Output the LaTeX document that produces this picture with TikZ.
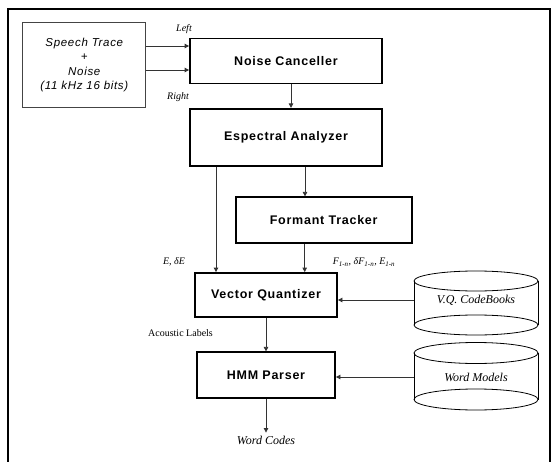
\documentclass[tikz,border=0pt]{standalone}
\usepackage{xcolor}
\usepackage{fontspec}
\setmainfont{Liberation Serif}
\setsansfont{Liberation Sans}
\newfontfamily\blockfont[LetterSpace=6]{Liberation Sans}
\usetikzlibrary{arrows.meta}
\definecolor{InkBlack}{HTML}{000000}
\definecolor{WireGray}{HTML}{333333}
\definecolor{SourceGray}{HTML}{444444}

\begin{document}
\begin{tikzpicture}[x=1pt, y=-1pt,
    block/.style={draw=InkBlack, line width=1.8pt, inner sep=0pt,
        font=\blockfont\bfseries\fontsize{12.5}{15}\selectfont},
    wire/.style={draw=WireGray, line width=0.8pt, -{Triangle[length=4.5pt, width=4.5pt]}},
    tag/.style={inner sep=0pt, font=\itshape\fontsize{10}{12}\selectfont},
    store/.style={draw=InkBlack, line width=0.8pt},
    storetext/.style={minimum width=124pt, inner sep=0pt, font=\itshape\fontsize{12}{14}\selectfont}]
    \useasboundingbox (0,0) rectangle (553,462);
    \draw[line width=2pt] (8,470) -- (8,9) -- (550,9) -- (550,470);

    % Input
    \node[draw=SourceGray, line width=0.8pt, minimum width=123pt, minimum height=85pt, inner sep=0pt,
        align=center, font=\blockfont\itshape\fontsize{11.5}{14.5}\selectfont]
        (speech) at (84.3,65) {Speech Trace\\+\\Noise\\(11 kHz 16 bits)};

    % Processing chain
    \node[block, minimum width=192pt, minimum height=45pt] (nc) at (286,61) {Noise Canceller};
    \node[block, minimum width=192pt, minimum height=57pt] (ea) at (286,137.3) {Espectral Analyzer};
    \node[block, minimum width=176pt, minimum height=46pt] (ft) at (323.7,220.3) {Formant Tracker};
    \node[block, minimum width=142pt, minimum height=44pt] (vq) at (266,295) {Vector Quantizer};
    \node[block, minimum width=138pt, minimum height=46pt] (hmm) at (266,375.3) {HMM Parser};

    % Stores
    \node[storetext] (cb) at (476,300) {V.Q. CodeBooks};
    \draw[store] (476,281) ellipse [x radius=62pt, y radius=10pt];
    \draw[store] (476,325) ellipse [x radius=62pt, y radius=10pt];
    \draw[store] (414,281) -- (414,325) (538,281) -- (538,325);

    \node[storetext] (wm) at (476,377) {Word Models};
    \draw[store] (476,353) ellipse [x radius=62pt, y radius=10.5pt];
    \draw[store] (476,399.5) ellipse [x radius=62pt, y radius=10.5pt];
    \draw[store] (414,353) -- (414,399.5) (538,353) -- (538,399.5);

    % Labels
    \node[tag] (tagL) at (184,29) {Left};
    \node[tag] (tagR) at (178,97) {Right};
    \node[tag] (tagE) at (174,262) {E, δE};
    \node[tag] (tagF) at (364,262) {F\textsubscript{1-n}, δF\textsubscript{1-n}, E\textsubscript{1-n}};
    \node[inner sep=0pt, font=\fontsize{10}{12}\selectfont] (tagA) at (180.5,333) {Acoustic Labels};
    \node[inner sep=3pt, font=\itshape\fontsize{12}{14}\selectfont] (wc) at (266,440) {Word Codes};

    % Connections
    \draw[wire] ([yshift=19pt]speech.east) -- ([yshift=19pt]speech.east -| nc.west);
    \draw[wire] ([yshift=-5pt]speech.east) -- ([yshift=-5pt]speech.east -| nc.west);
    \draw[wire] ([xshift=5pt]nc.south) -- ([xshift=5pt]ea.north);
    \draw[wire] ([xshift=-70pt]ea.south) -- ([xshift=-70pt]ea.south |- vq.north);
    \draw[wire] ([xshift=19pt]ea.south) -- ([xshift=19pt]ea.south |- ft.north);
    \draw[wire] ([xshift=-19pt]ft.south) -- ([xshift=-19pt]ft.south |- vq.north);
    \draw[wire] (cb.west) -- (cb.west -| vq.east);
    \draw[wire] (wm.west) -- (wm.west -| hmm.east);
    \draw[wire] (vq.south) -- (hmm.north);
    \draw[wire] (hmm.south) -- (wc.north);
\end{tikzpicture}
\end{document}
